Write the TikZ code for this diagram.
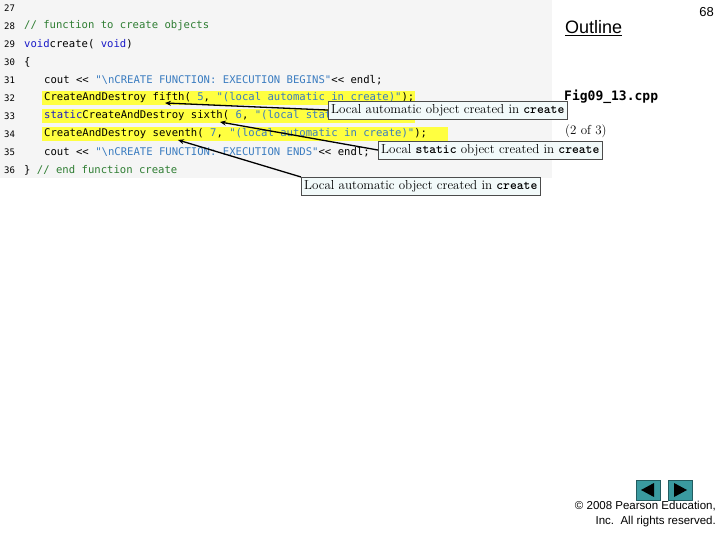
\documentclass[tikz,border=0pt]{standalone}
\usepackage{fontspec}
\setmainfont{Latin Modern Roman}
\newfontfamily\arial{Liberation Sans}
\newfontfamily\cmono{DejaVu Sans Mono}
\usetikzlibrary{arrows.meta}
\definecolor{kw}{HTML}{1A1AC8}
\definecolor{cm}{HTML}{2E7D32}
\definecolor{st}{HTML}{3A7CC0}
\definecolor{hl}{HTML}{FFFF40}
\definecolor{boxfill}{HTML}{F2FAFA}
\definecolor{btn}{HTML}{3A9AA0}
\tikzset{x=1pt,y=-1pt,
 code/.style={anchor=west,inner sep=0,font=\cmono\fontsize{10.6}{12}\selectfont},
 lnum/.style={anchor=west,inner sep=0,font=\cmono\fontsize{9}{12}\selectfont},
 callout/.style={draw=black!70,fill=boxfill,inner sep=3pt,anchor=north west,font=\fontsize{13}{15}\selectfont},
 arr/.style={-{Stealth[length=6pt,width=5pt]},line width=1.3pt},
 navbtn/.style={fill=btn,draw=btn!60!black,minimum width=24pt,minimum height=20pt,inner sep=0}}
\begin{document}
\begin{tikzpicture}
\useasboundingbox (0,0) rectangle (720,540);
\fill[gray!8] (0,0) rectangle (552,178);
\fill[hl] (42,91) rectangle (415,105);
\fill[hl] (42,109) rectangle (415,123);
\fill[hl] (42,127) rectangle (448,141);
\foreach \n/\y in {27/8,28/26,29/44,30/62,31/80,32/98,33/116,34/134,35/152,36/170}
  \node[lnum] at (4,\y) {\n};
\node[code] at (24,26) {\color{cm}// function to create objects};
\node[code] at (24,44) {\color{kw}void\color{black} create( \color{kw}void\color{black} )};
\node[code] at (24,62) {\{};
\node[code] (l31) at (44,80) {cout << \color{st}"\textbackslash nCREATE FUNCTION: EXECUTION BEGINS"\color{black} << endl;};
\node[code] (l32) at (44,98) {CreateAndDestroy fifth( \color{st}5\color{black}, \color{st}"(local automatic in create)"\color{black} );};
\node[code] (l33) at (44,116) {\color{kw}static\color{black} CreateAndDestroy sixth( \color{st}6\color{black}, \color{st}"(local static in create)"\color{black} );};
\node[code] (l34) at (44,134) {CreateAndDestroy seventh( \color{st}7\color{black}, \color{st}"(local automatic in create)"\color{black} );};
\node[code] (l35) at (44,152) {cout << \color{st}"\textbackslash nCREATE FUNCTION: EXECUTION ENDS"\color{black} << endl;};
\node[code] at (24,170) {\} \color{cm}// end function create};
\coordinate (fifth) at (165,103);
\coordinate (sixth) at (220,122);
\coordinate (seventh) at (178,140);
\node[font=\arial\fontsize{18}{20}\selectfont,anchor=west,inner sep=0] (outline) at (565,28) {\underline{Outline}};
\node[font=\arial\fontsize{13}{15}\selectfont,anchor=east,inner sep=0] (pg) at (714,12) {68};
\node[font=\cmono\bfseries\fontsize{13}{15}\selectfont,anchor=west,inner sep=0] (fig) at (564,97) {Fig09\_13.cpp};
\node[font=\fontsize{13}{15}\selectfont,anchor=west,inner sep=0] (pgof) at (565,131) {(2 of 3)};
\node[callout] (b1) at (328,101) {Local automatic object created in \texttt{\bfseries create}};
\node[callout] (b2) at (378,141) {Local \texttt{\bfseries static} object created in \texttt{\bfseries create}};
\node[callout] (b3) at (301,177) {Local automatic object created in \texttt{\bfseries create}};
\draw[arr] (b1.west) -- (fifth);
\draw[arr] (b2.west) -- (sixth);
\draw[arr] (b3.north west) -- (seventh);
\node[navbtn] (prev) at (648,490) {};
\node[navbtn] (next) at (680,490) {};
\fill (prev.center)+(-7,0) -- +(6,-7) -- +(6,7) -- cycle;
\fill (next.center)+(7,0) -- +(-6,-7) -- +(-6,7) -- cycle;
\node[font=\arial\fontsize{11.5}{15}\selectfont,align=right,anchor=north east,inner sep=0] (copy) at (716,501) {© 2008 Pearson Education,\\Inc.\ \ All rights reserved.};
\end{tikzpicture}
\end{document}
